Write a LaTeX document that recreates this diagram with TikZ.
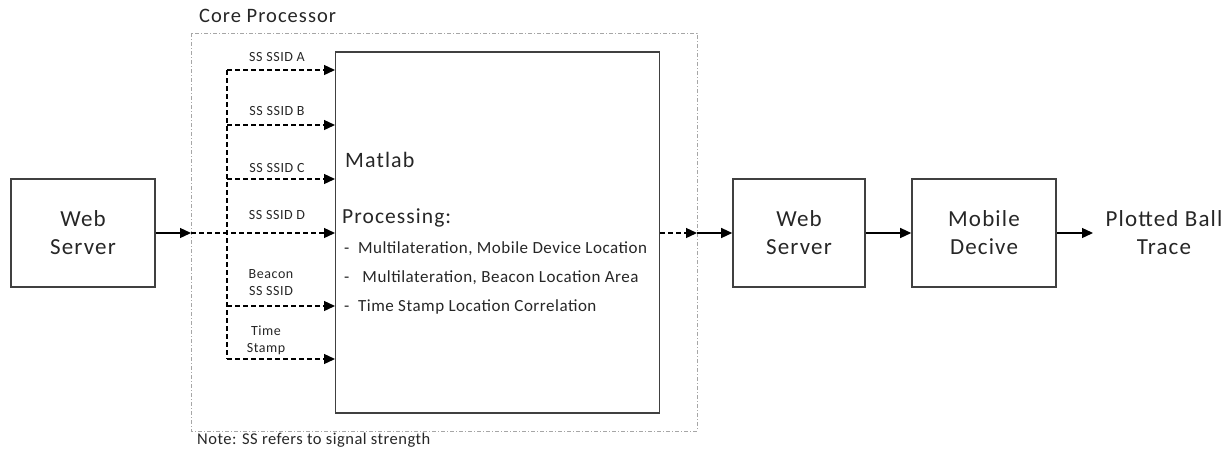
\documentclass[tikz,border=0pt]{standalone}
\usepackage{fontspec}
\setmainfont{Carlito}
\newfontfamily\wideA[LetterSpace=5]{Carlito}
\newfontfamily\wideB[LetterSpace=3]{Carlito}
\newfontfamily\wideC[LetterSpace=4]{Carlito}
\usetikzlibrary{arrows.meta}
\begin{document}
\begin{tikzpicture}[x=1pt,y=-1pt,
  blk/.style={draw=black!75,line width=1.6pt,inner sep=0pt},
  sig/.style={line width=1.3pt,-{Triangle[length=11pt,width=10pt]}},
  dsig/.style={sig,dash pattern=on 5pt off 3pt},
  lbl/.style={font=\wideC\fontsize{14}{17}\selectfont,align=center,inner sep=0pt,text=black!85},
  big/.style={font=\wideA\fontsize{23}{28}\selectfont,align=center,text=black!85}]
\useasboundingbox (0,0) rectangle (1228,453);
% core processor region
\draw[black!35,line width=0.8pt,dash pattern=on 4pt off 2pt on 1pt off 2pt] (191,33) rectangle (697,431);
\node[anchor=west,font=\wideA\fontsize{20.5}{24}\selectfont,inner sep=0pt,text=black!85] (core) at (199,16) {Core Processor};
\node[anchor=west,font=\wideB\fontsize{16.5}{18}\selectfont,inner sep=0pt,text=black!85] (note) at (197,440) {Note: SS refers to signal strength};
% boxes
\node[blk,minimum width=144pt,minimum height=108pt,big] (ws1) at (83,233) {Web\\Server};
\node[blk,minimum width=324pt,minimum height=361pt] (mat) at (497.5,232.5) {};
\node[blk,minimum width=132pt,minimum height=108pt,big] (ws2) at (799,233) {Web\\Server};
\node[blk,minimum width=144pt,minimum height=108pt,big] (mob) at (984,233) {Mobile\\Decive};
\node[big,inner sep=0pt] (out) at (1164,233) {Plotted Ball\\Trace};
% Matlab texts
\node[anchor=west,font=\wideA\fontsize{22}{24}\selectfont,inner sep=0pt,text=black!85] (t1) at (345,160) {Matlab};
\node[anchor=west,font=\wideA\fontsize{21.5}{24}\selectfont,inner sep=0pt,text=black!85] (t2) at (342,218) {Processing:};
\node[anchor=west,font=\wideB\fontsize{17}{19}\selectfont,inner sep=0pt,text=black!85] (t3) at (344,249) {-\ \ Multilateration, Mobile Device Location};
\node[anchor=west,font=\wideB\fontsize{17}{19}\selectfont,inner sep=0pt,text=black!85] (t4) at (344,278) {-\ \ \ Multilateration, Beacon Location Area};
\node[anchor=west,font=\wideB\fontsize{17}{19}\selectfont,inner sep=0pt,text=black!85] (t5) at (344,307) {-\ \ Time Stamp Location Correlation};
% coordinates
\coordinate (in) at (191,233);
\coordinate (b1) at (227,70);
\coordinate (b2) at (227,125);
\coordinate (b3) at (227,179);
\coordinate (b5) at (227,306);
\coordinate (b6) at (227,359);
\coordinate (e1) at (335,70);
\coordinate (e2) at (335,125);
\coordinate (e3) at (335,179);
\coordinate (e4) at (335,233);
\coordinate (e5) at (335,306);
\coordinate (e6) at (335,359);
\coordinate (o1) at (697,233);
\coordinate (oo) at (1093,233);
% connectors
\draw[sig] (ws1.east) -- (in);
\draw[dsig] (in) -- (e4);
\draw[line width=1.3pt,dash pattern=on 5pt off 3pt] (b1) -- (b6);
\draw[dsig] (b1) -- (e1);
\draw[dsig] (b2) -- (e2);
\draw[dsig] (b3) -- (e3);
\draw[dsig] (b5) -- (e5);
\draw[dsig] (b6) -- (e6);
\draw[dsig] (mat.east |- o1) -- (o1);
\draw[sig] (o1) -- (ws2.west);
\draw[sig] (ws2.east) -- (mob.west);
\draw[sig] (mob.east) -- (oo);
% labels
\node[lbl] (l1) at (277,57) {SS SSID A};
\node[lbl] (l2) at (277,111) {SS SSID B};
\node[lbl] (l3) at (277,168) {SS SSID C};
\node[lbl] (l4) at (277,215) {SS SSID D};
\node[lbl] (l5) at (271,283) {Beacon\\SS SSID};
\node[lbl] (l6) at (266,340) {Time\\Stamp};
\end{tikzpicture}
\end{document}
